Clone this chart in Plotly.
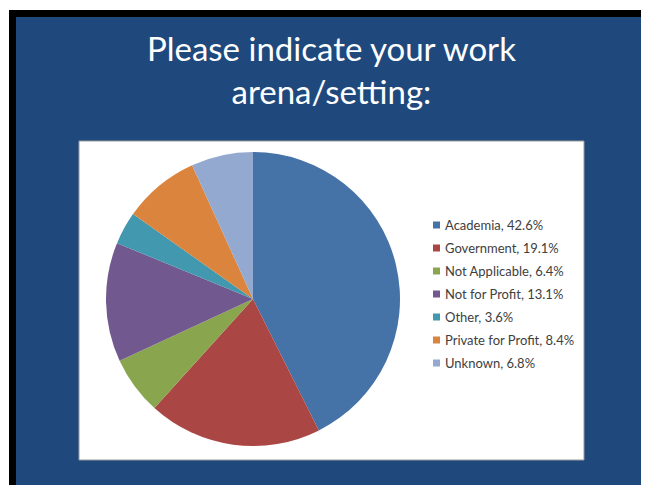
import plotly.graph_objects as go

# page is 649x485; the html body adds an 8px margin, so the figure is drawn 8px in
O = 8
FW, FH = 649 - O, 485 - O

# ---- data ----
categories = ["Academia", "Government", "Not Applicable", "Not for Profit",
              "Other", "Private for Profit", "Unknown"]
percentages = [42.6, 19.1, 6.4, 13.1, 3.6, 8.4, 6.8]
slice_colors = ["#4572A7", "#AA4643", "#89A54E", "#71588F",
                "#4198AF", "#DB843D", "#93A9CF"]
title_lines = ["Please indicate your work", "arena/setting:"]


def fx(x):
    return (x - O) / FW


def fy(y):
    return 1 - (y - O) / FH


fig = go.Figure()

# pie: centre (253, 299), radius 147 px (page coordinates)
cx, cy, r = 253, 299, 147
fig.add_trace(go.Pie(
    labels=categories,
    values=percentages,
    marker=dict(colors=slice_colors, line=dict(width=0)),
    sort=False,
    direction="clockwise",
    rotation=0,
    textinfo="none",
    showlegend=False,
    domain=dict(x=[fx(cx - r), fx(cx + r)], y=[fy(cy + r), fy(cy - r)]),
))

shapes = [
    # black frame
    dict(type="rect", xref="paper", yref="paper", x0=fx(9), x1=fx(652), y0=fy(490), y1=fy(10),
         fillcolor="#000000", line=dict(width=0), layer="below"),
    # blue slide
    dict(type="rect", xref="paper", yref="paper", x0=fx(16), x1=fx(648), y0=fy(490), y1=fy(17),
         fillcolor="#1F497D", line=dict(width=0), layer="below"),
    # white chart panel
    dict(type="rect", xref="paper", yref="paper", x0=fx(79), x1=fx(584), y0=fy(460), y1=fy(141),
         fillcolor="#FFFFFF", line=dict(color="#9A9A9A", width=1), layer="below"),
]

annotations = [
    dict(text="<br>".join(title_lines), xref="paper", yref="paper",
         x=fx(331), y=fy(69), xanchor="center", yanchor="middle", showarrow=False,
         font=dict(family="Lato", size=33, color="#FFFFFF")),
]

# legend entries built from data
row0, step = 225, 23
for i, (cat, val, col) in enumerate(zip(categories, percentages, slice_colors)):
    yc = row0 + i * step
    shapes.append(dict(type="rect", xref="paper", yref="paper",
                       x0=fx(433), x1=fx(440), y0=fy(yc + 3.5), y1=fy(yc - 3.5),
                       fillcolor=col, line=dict(width=0)))
    annotations.append(dict(text=f"{cat}, {val}%", xref="paper", yref="paper",
                            x=fx(445), y=fy(yc), xanchor="left", yanchor="middle",
                            showarrow=False, xshift=-2,
                            font=dict(family="Lato", size=13, color="#404040")))

fig.update_layout(
    width=FW, height=FH,
    margin=dict(l=0, r=0, t=0, b=0),
    paper_bgcolor="#FFFFFF",
    plot_bgcolor="#FFFFFF",
    shapes=shapes,
    annotations=annotations,
    showlegend=False,
)

fig.write_html("out.html")
